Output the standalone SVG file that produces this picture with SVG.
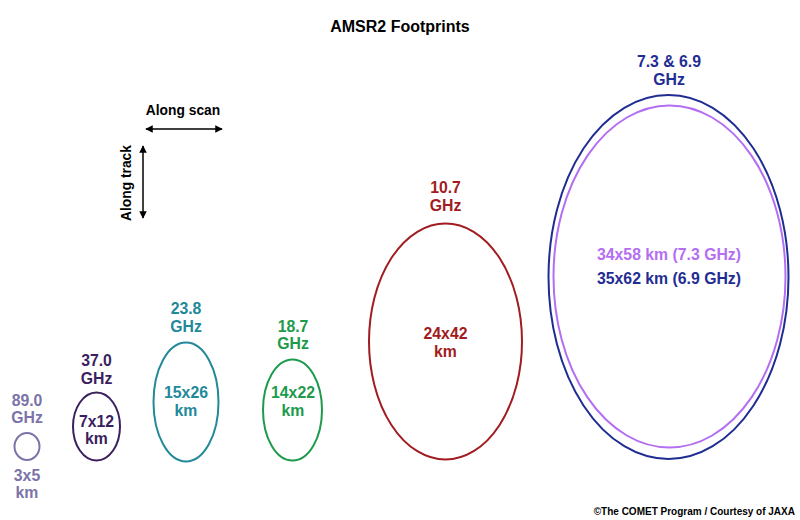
<svg xmlns="http://www.w3.org/2000/svg" width="800" height="520" viewBox="0 0 800 520">
<defs>
<marker id="ah" viewBox="0 0 10 10" refX="9" refY="5" markerWidth="5" markerHeight="5" orient="auto-start-reverse">
<path d="M0,0 L10,5 L0,10 Z" fill="#000"/>
</marker>
</defs>
<style>
text{font-family:"Liberation Sans",Arial,sans-serif;font-weight:bold;text-anchor:middle}
.t{font-size:15.8px}
.fp{fill:none;stroke-width:2}
</style>
<rect width="800" height="520" fill="#fff"/>
<text x="400" y="32" font-size="16" fill="#000">AMSR2 Footprints</text>
<g id="connectors">
<line x1="146" y1="129" x2="222" y2="129" stroke="#000" stroke-width="1.5" marker-start="url(#ah)" marker-end="url(#ah)"/>
<line x1="143" y1="146" x2="143" y2="218" stroke="#000" stroke-width="1.5" marker-start="url(#ah)" marker-end="url(#ah)"/>
</g>
<text x="183" y="115" font-size="13.8" fill="#000">Along scan</text>
<text transform="translate(131,183) rotate(-90)" x="0" y="0" font-size="13.8" fill="#000">Along track</text>
<g id="f89" fill="#7b73a9">
<ellipse cx="27" cy="446.5" rx="12.5" ry="13.5" class="fp" stroke="#7b73a9"/>
<text x="27" y="406" class="t">89.0</text>
<text x="27" y="423" class="t">GHz</text>
<text x="27" y="481" class="t">3x5</text>
<text x="27" y="498" class="t">km</text>
</g>
<g id="f37" fill="#3b1f5e">
<ellipse cx="96.5" cy="426.5" rx="23.5" ry="34" class="fp" stroke="#3b1f5e"/>
<text x="96.5" y="366" class="t">37.0</text>
<text x="96.5" y="384" class="t">GHz</text>
<text x="96.5" y="427" class="t">7x12</text>
<text x="96.5" y="444" class="t">km</text>
</g>
<g id="f23" fill="#22889a">
<ellipse cx="186" cy="402" rx="32.5" ry="59.5" class="fp" stroke="#22889a"/>
<text x="186" y="314" class="t">23.8</text>
<text x="186" y="332" class="t">GHz</text>
<text x="186" y="398" class="t">15x26</text>
<text x="186" y="416" class="t">km</text>
</g>
<g id="f18" fill="#1e9a4c">
<ellipse cx="292.5" cy="410" rx="29.5" ry="50.5" class="fp" stroke="#1e9a4c"/>
<text x="293" y="332" class="t">18.7</text>
<text x="293" y="349" class="t">GHz</text>
<text x="293" y="398" class="t">14x22</text>
<text x="293" y="416" class="t">km</text>
</g>
<g id="f10" fill="#a11c21">
<ellipse cx="445.5" cy="341.5" rx="76.5" ry="118" class="fp" stroke="#a11c21"/>
<text x="445.5" y="193" class="t">10.7</text>
<text x="445.5" y="211" class="t">GHz</text>
<text x="445.5" y="339" class="t">24x42</text>
<text x="445.5" y="357" class="t">km</text>
</g>
<g id="f7" fill="#1f2d93">
<ellipse cx="668.5" cy="277" rx="120" ry="182" class="fp" stroke="#1f2d93"/>
<ellipse cx="669.5" cy="276.5" rx="116" ry="171" class="fp" stroke="#b46ef2"/>
<text x="669" y="67" class="t">7.3 &amp; 6.9</text>
<text x="669" y="85" class="t">GHz</text>
<text x="669" y="260" class="t" fill="#b46ef2">34x58 km (7.3 GHz)</text>
<text x="669" y="284" class="t">35x62 km (6.9 GHz)</text>
</g>
<text x="795" y="515" font-size="10" fill="#000" style="text-anchor:end">©The COMET Program / Courtesy of JAXA</text>
</svg>
